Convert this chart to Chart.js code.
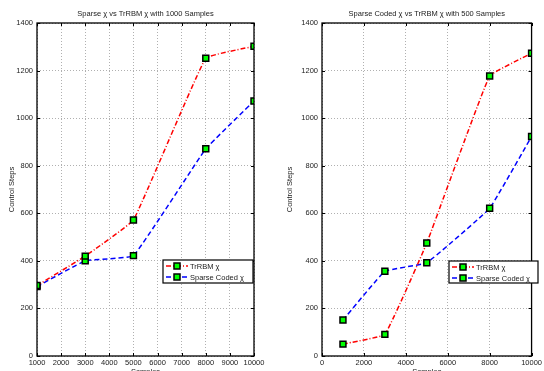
<!DOCTYPE html>
<html><head><meta charset="utf-8">
<script src="https://cdn.jsdelivr.net/npm/chart.js@4/dist/chart.umd.min.js"></script>
<style>
html,body{margin:0;padding:0;background:#fff;width:544px;height:371px;overflow:hidden;}
.wrap{position:absolute;top:0;height:371px;width:272px;}
#w1{left:0}#w2{left:272px}
</style></head><body>
<div class="wrap" id="w1"><canvas id="c1"></canvas></div>
<div class="wrap" id="w2"><canvas id="c2"></canvas></div>
<script>
const samples = [1000, 3000, 5000, 8000, 10000];
const trrbm1000 = [296, 420, 572, 1252, 1302];
const sparse1000 = [292, 400, 422, 871, 1072];
const trrbm500 = [50, 91, 475, 1177, 1273];
const sparse500 = [151, 356, 392, 621, 923];
const seriesNames = ['TrRBM χ', 'Sparse Coded χ'];
const titles = ['Sparse χ vs TrRBM χ with 1000 Samples', 'Sparse Coded χ vs TrRBM χ with 500 Samples'];
const xLabel = 'Samples';
const yLabel = 'Control Steps';

const FONT = 'Liberation Sans, Arial, sans-serif';
const RED = '#ff0000', BLUE = '#0000ff', GREEN = '#00ff00';
const redDash = [5, 2, 1, 2], blueDash = [5, 3];

const framePlugin = {
  id: 'frame',
  afterDraw(chart, args, opts) {
    const ctx = chart.ctx, a = chart.chartArea;
    const xs = chart.scales.x, ys = chart.scales.y;
    ctx.save();
    ctx.strokeStyle = '#000'; ctx.lineWidth = 1; ctx.setLineDash([]);
    ctx.beginPath();
    xs.ticks.forEach(t => { const p = Math.round(xs.getPixelForValue(t.value)) + 0.5;
      ctx.moveTo(p, a.bottom); ctx.lineTo(p, a.bottom - 3);
      ctx.moveTo(p, a.top); ctx.lineTo(p, a.top + 3); });
    ys.ticks.forEach(t => { const p = Math.round(ys.getPixelForValue(t.value)) + 0.5;
      ctx.moveTo(a.left, p); ctx.lineTo(a.left + 3, p);
      ctx.moveTo(a.right, p); ctx.lineTo(a.right - 3, p); });
    ctx.stroke();
    ctx.lineWidth = 1.3;
    ctx.strokeRect(a.left, a.top, a.right - a.left, a.bottom - a.top);
    ctx.fillStyle = '#222'; ctx.font = '7.5px ' + FONT; ctx.textAlign = 'center'; ctx.textBaseline = 'middle';
    ctx.fillText(opts.title, (a.left + a.right) / 2, 14);
    ctx.fillText(xLabel, (a.left + a.right) / 2, 372);
    ctx.save(); ctx.translate(opts.yLabelX, (a.top + a.bottom) / 2); ctx.rotate(-Math.PI / 2);
    ctx.fillText(yLabel, 0, 0); ctx.restore();
    const L = opts.legend;
    ctx.fillStyle = '#fff'; ctx.fillRect(L.x, L.y, L.w, L.h);
    ctx.strokeStyle = '#000'; ctx.lineWidth = 1.2; ctx.strokeRect(L.x, L.y, L.w, L.h);
    ctx.font = '7.5px ' + FONT;
    chart.data.datasets.forEach((ds, i) => {
      const cy = L.y + 6 + i * 11;
      ctx.strokeStyle = ds.borderColor; ctx.lineWidth = 1.5; ctx.setLineDash(ds.borderDash);
      ctx.beginPath(); ctx.moveTo(L.x + 3, cy); ctx.lineTo(L.x + 25, cy); ctx.stroke();
      ctx.setLineDash([]);
      ctx.fillStyle = GREEN; ctx.strokeStyle = '#000'; ctx.lineWidth = 1.5;
      ctx.fillRect(L.x + 11, cy - 3, 6, 6); ctx.strokeRect(L.x + 11, cy - 3, 6, 6);
      ctx.fillStyle = '#222'; ctx.textAlign = 'left';
      ctx.fillText(ds.label, L.x + 27, cy + 1);
    });
    ctx.restore();
  }
};

function makeChart(id, trr, sp, xmin, xstep, padL, yw, title, legend, yLabelX) {
  const ds = (label, data, color, dash) => ({
    label, data: samples.map((s, i) => ({x: s, y: data[i]})),
    borderColor: color, borderDash: dash, borderWidth: 1.5, fill: false,
    tension: 0.08,
    pointStyle: 'rect', pointRadius: 4.2, pointBackgroundColor: GREEN,
    pointBorderColor: '#000', pointBorderWidth: 1.5
  });
  return new Chart(document.getElementById(id), {
    type: 'line',
    data: { datasets: [ds(seriesNames[0], trr, RED, redDash), ds(seriesNames[1], sp, BLUE, blueDash)] },
    options: {
      responsive: true, maintainAspectRatio: false, animation: false,
      layout: { padding: { left: 0, right: padL, top: 23, bottom: 0 } },
      plugins: { legend: { display: false }, tooltip: { enabled: false },
        frame: { title, legend, yLabelX } },
      scales: {
        x: { type: 'linear', min: xmin, max: 10000,
          ticks: { stepSize: xstep, autoSkip: false, color: '#222', font: { size: 7.5, family: FONT }, padding: 2, maxRotation: 0,
            callback: v => String(v) },
          grid: { color: '#b0b0b0', drawTicks: false, lineWidth: 1 },
          border: { display: false, dash: [1, 2] },
          afterFit(s) { s.height = 15; } },
        y: { min: 0, max: 1400,
          ticks: { stepSize: 200, color: '#222', font: { size: 7.5, family: FONT }, padding: 4, callback: v => String(v) },
          grid: { color: '#b0b0b0', drawTicks: false, lineWidth: 1 },
          border: { display: false, dash: [1, 2] },
          afterFit(s) { s.width = yw; } }
      }
    },
    plugins: [framePlugin]
  });
}
makeChart('c1', trrbm1000, sparse1000, 1000, 1000, 18, 37, titles[0], {x: 163, y: 260, w: 90, h: 23}, 12);
makeChart('c2', trrbm500, sparse500, 0, 2000, 5, 50, titles[1], {x: 177, y: 261, w: 89, h: 22}, 18);
</script>
</body></html>
